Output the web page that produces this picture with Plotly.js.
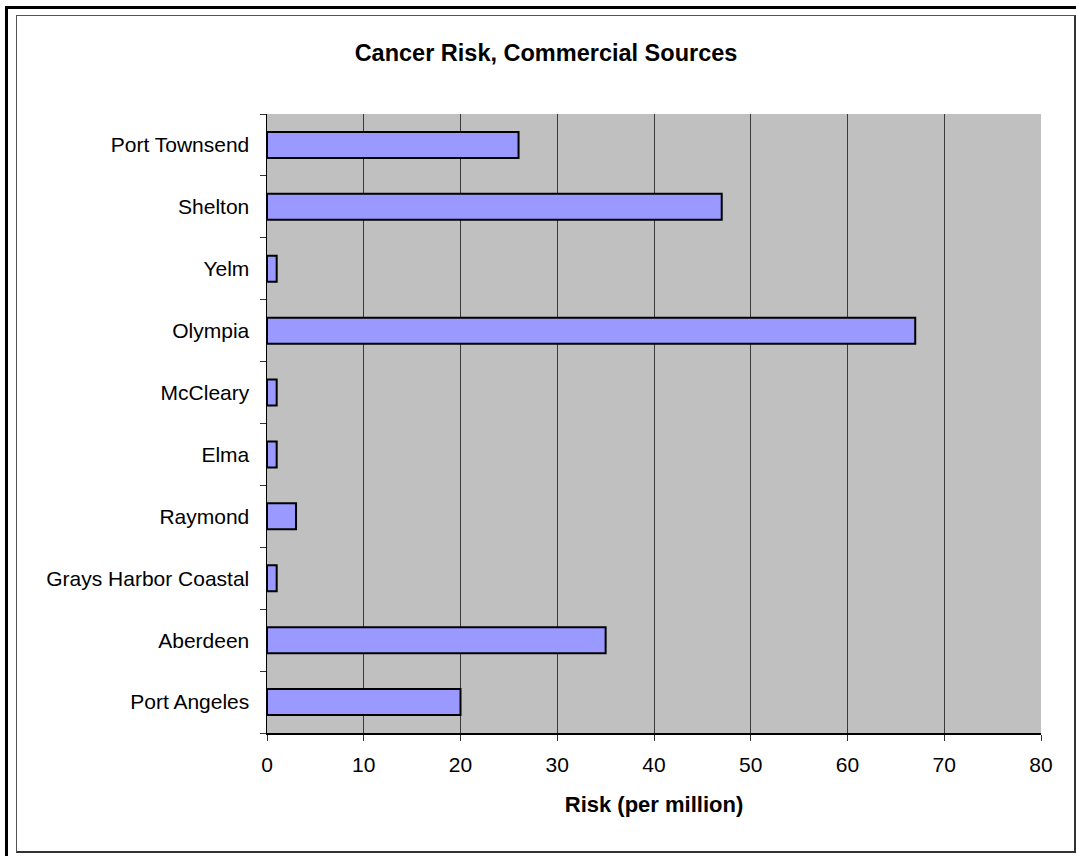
<!DOCTYPE html>
<html>
<head>
<meta charset="utf-8">
<script src="https://cdn.plot.ly/plotly-3.0.1.min.js"></script>
<style>
  html, body { margin: 0; padding: 0; background: #ffffff; }
  #wrap { position: relative; width: 1076px; height: 856px; overflow: hidden; }
  #chart { position: absolute; left: 0; top: 0; width: 1076px; height: 856px; }
  /* page frame: heavy rule along the top and left edge */
  #pageFrame { position: absolute; left: 5px; top: 6px; width: 1080px; height: 860px;
               border-top: 3px solid #000; border-left: 3px solid #000; pointer-events: none; }
  /* chart area border */
  #chartFrame { position: absolute; left: 16px; top: 15px; width: 1057px; height: 835px;
                border-left: 1px solid #555; border-top: 1px solid #555;
                border-right: 2px solid #333; border-bottom: 2px solid #333; pointer-events: none; }
</style>
</head>
<body>
<div id="wrap">
  <div id="chart"></div>
  <div id="pageFrame"></div>
  <div id="chartFrame"></div>
</div>
<script>
// Communities, listed bottom to top as they appear on the category axis
const communities = [
  "Port Angeles",
  "Aberdeen",
  "Grays Harbor Coastal",
  "Raymond",
  "Elma",
  "McCleary",
  "Olympia",
  "Yelm",
  "Shelton",
  "Port Townsend"
];

// Cancer risk from commercial sources (per million)
const riskPerMillion = [20, 35, 1, 3, 1, 1, 67, 1, 47, 26];

const xTickValues = [0, 10, 20, 30, 40, 50, 60, 70, 80];

const chartTitle = "Cancer Risk, Commercial Sources";
const xAxisTitle = "Risk (per million)";

const W = 1076, H = 856;
const plotLeft = 266.7, plotRight = 1040.7, plotTop = 114, plotBottom = 733;

const trace = {
  type: "bar",
  orientation: "h",
  y: communities,
  x: riskPerMillion,
  width: 0.42,
  marker: { color: "#9999ff", line: { color: "#000000", width: 2 } },
  hoverinfo: "x+y"
};

const layout = {
  width: W,
  height: H,
  margin: { l: plotLeft, r: W - plotRight, t: plotTop, b: H - plotBottom, pad: 0 },
  paper_bgcolor: "#ffffff",
  plot_bgcolor: "#c0c0c0",
  showlegend: false,
  font: { family: "Liberation Sans, Arial, sans-serif", color: "#000000", size: 21 },
  title: {
    text: "<b>" + chartTitle + "</b>",
    font: { family: "Liberation Sans, Arial, sans-serif", size: 23.5, color: "#000000" },
    xref: "container", x: 546 / W, xanchor: "center",
    yref: "container", y: 1 - 53 / H, yanchor: "middle"
  },
  xaxis: {
    range: [0, 80],
    tickmode: "array",
    tickvals: xTickValues,
    ticktext: xTickValues.map(String),
    ticks: "outside",
    ticklen: 6,
    tickwidth: 1,
    tickcolor: "#333333",
    showgrid: true,
    gridcolor: "#3a3a3a",
    gridwidth: 1,
    zeroline: false,
    showline: true,
    linecolor: "#000000",
    linewidth: 1.5,
    tickfont: { size: 21 },
    ticklabelstandoff: 6,
    fixedrange: true,
    title: {
      text: "<b>" + xAxisTitle + "</b>",
      font: { size: 22 },
      standoff: 22
    }
  },
  yaxis: {
    type: "category",
    categoryorder: "array",
    categoryarray: communities,
    tickson: "boundaries",
    ticks: "outside",
    ticklen: 6,
    tickwidth: 1,
    tickcolor: "#333333",
    showgrid: false,
    zeroline: false,
    showline: true,
    linecolor: "#000000",
    linewidth: 1.5,
    tickfont: { size: 21 },
    ticklabelstandoff: 12,
    fixedrange: true
  },
  bargap: 0.58
};

Plotly.newPlot("chart", [trace], layout, { displayModeBar: false, staticPlot: true });
</script>
</body>
</html>
